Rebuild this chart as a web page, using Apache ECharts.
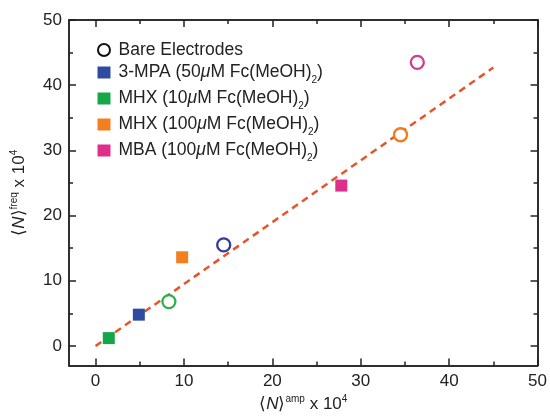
<!DOCTYPE html>
<html lang="en">
<head>
    <meta charset="UTF-8">
    <title>N freq vs N amp</title>
    <script src="https://cdn.jsdelivr.net/npm/echarts@6.0.0/dist/echarts.min.js"></script>
    <style>
        html, body { margin: 0; padding: 0; background: #fff; }
        #chart { width: 550px; height: 418px; }
    </style>
</head>
<body>
<div id="chart"></div>
<script>
    // data
    var seriesNames = ['Bare Electrodes', '3-MPA', 'MHX10', 'MHX100', 'MBA'];
    // open circles, one per coating
    var barePoints = [[14.5, 15.5], [8.3, 6.8], [34.5, 32.4], [36.4, 43.5]];
    var bareColors = ['#2e3d9e', '#2fb04c', '#f07d1c', '#cf3b97'];
    // filled squares
    var mpaPoints = [[4.9, 4.8]];
    var mhx10Points = [[1.5, 1.2]];
    var mhx100Points = [[9.8, 13.6]];
    var mbaPoints = [[27.8, 24.6]];
    var fitLine = [[0, 0], [45, 42.7]];

    var majorTicks = [0, 10, 20, 30, 40, 50];
    var minorTicks = [5, 15, 25, 35, 45];

    var chart = echarts.init(document.getElementById('chart'));

    var fontFam = '"Liberation Sans", Arial, sans-serif';
    var richName = {
        b: { fontSize: 17, lineHeight: 20, fontFamily: fontFam, color: '#222' },
        i: { fontSize: 17, lineHeight: 20, fontStyle: 'italic', fontFamily: fontFam, color: '#222' },
        sup: { fontSize: 10, lineHeight: 20, verticalAlign: 'top', fontFamily: fontFam, color: '#222' }
    };
    var richLegend = {
        t: { fontSize: 17.5, lineHeight: 20, fontFamily: fontFam, color: '#222' },
        mu: { fontSize: 17.5, lineHeight: 20, fontStyle: 'italic', fontFamily: fontFam, color: '#222' },
        sub: { fontSize: 10, lineHeight: 25, verticalAlign: 'bottom', fontFamily: fontFam, color: '#222' }
    };
    var legendLabels = {
        'Bare Electrodes': '{t|Bare Electrodes}',
        '3-MPA': '{t|3-MPA (50}{mu|μ}{t|M Fc(MeOH)}{sub|2}{t|)}',
        'MHX10': '{t|MHX (10}{mu|μ}{t|M Fc(MeOH)}{sub|2}{t|)}',
        'MHX100': '{t|MHX (100}{mu|μ}{t|M Fc(MeOH)}{sub|2}{t|)}',
        'MBA': '{t|MBA (100}{mu|μ}{t|M Fc(MeOH)}{sub|2}{t|)}'
    };

    function axis(pos, ticks, len, labels, extra) {
        var a = {
            type: 'value', min: -3, max: 50, position: pos,
            splitLine: { show: false },
            axisLine: { show: true, onZero: false, lineStyle: { color: '#222', width: 1.5 } },
            axisTick: { show: true, inside: true, length: len, customValues: ticks, lineStyle: { color: '#222', width: 1.5 } },
            axisLabel: labels ? { customValues: ticks, fontSize: 17, color: '#222', fontFamily: fontFam, margin: 7 } : { show: false }
        };
        return Object.assign(a, extra || {});
    }

    var option = {
        animation: false,
        grid: { left: 69, right: 9, top: 20, bottom: 49 },
        xAxis: [
            axis('bottom', majorTicks, 7, true, {
                name: '{b|⟨}{i|N}{b|⟩}{sup|amp}{b| x 10}{sup|4}',
                nameLocation: 'middle', nameGap: 29,
                nameTextStyle: { rich: richName }
            }),
            axis('bottom', minorTicks, 4, false),
            axis('top', majorTicks, 7, false),
            axis('top', minorTicks, 4, false)
        ],
        yAxis: [
            axis('left', majorTicks, 7, true, {
                name: '{b|⟨}{i|N}{b|⟩}{sup|freq}{b| x 10}{sup|4}',
                nameLocation: 'middle', nameGap: 40,
                nameTextStyle: { rich: richName }
            }),
            axis('left', minorTicks, 4, false),
            axis('right', majorTicks, 7, false),
            axis('right', minorTicks, 4, false)
        ],
        legend: {
            data: seriesNames,
            orient: 'vertical',
            left: 92, top: 36,
            itemGap: 4.5,
            itemWidth: 13, itemHeight: 12,
            formatter: function (name) { return legendLabels[name]; },
            textStyle: { rich: richLegend, padding: [0, 0, 0, 3] }
        },
        series: [
            {
                name: 'fit', type: 'line', data: fitLine, symbol: 'none', z: 1,
                lineStyle: { color: '#e8532b', width: 2.5, type: [7, 5] }
            },
            {
                name: 'Bare Electrodes', type: 'scatter', symbol: 'circle', symbolSize: 13, z: 3,
                itemStyle: { color: '#fff', borderColor: '#111', borderWidth: 2.3, opacity: 1 },
                data: barePoints.map(function (p, i) {
                    return { value: p, itemStyle: { borderColor: bareColors[i] } };
                })
            },
            {
                name: '3-MPA', type: 'scatter', symbol: 'rect', symbolSize: 12, z: 3,
                itemStyle: { color: '#2f4aa3', opacity: 1 }, data: mpaPoints
            },
            {
                name: 'MHX10', type: 'scatter', symbol: 'rect', symbolSize: 12, z: 3,
                itemStyle: { color: '#16a64a', opacity: 1 }, data: mhx10Points
            },
            {
                name: 'MHX100', type: 'scatter', symbol: 'rect', symbolSize: 12, z: 3,
                itemStyle: { color: '#f47f1e', opacity: 1 }, data: mhx100Points
            },
            {
                name: 'MBA', type: 'scatter', symbol: 'rect', symbolSize: 12, z: 3,
                itemStyle: { color: '#df2f8c', opacity: 1 }, data: mbaPoints
            }
        ]
    };

    chart.setOption(option);
</script>
</body>
</html>
